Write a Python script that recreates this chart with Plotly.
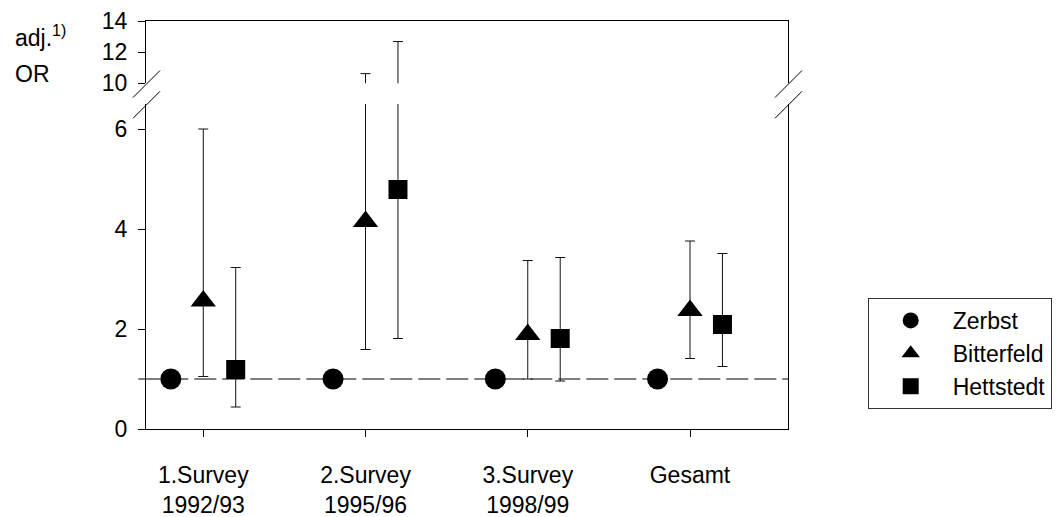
import plotly.graph_objects as go

# ---------------- data ----------------
groups = ["1.Survey<br>1992/93", "2.Survey<br>1995/96", "3.Survey<br>1998/99", "Gesamt"]
series_names = ["Zerbst", "Bitterfeld", "Hettstedt"]

zerbst_or = [1.0, 1.0, 1.0, 1.0]

bitterfeld_or = [2.56, 4.15, 1.89, 2.37]
bitterfeld_lo = [1.05, 1.59, 1.00, 1.41]
bitterfeld_hi = [6.00, 10.62, 3.37, 3.76]

hettstedt_or = [1.19, 4.79, 1.81, 2.09]
hettstedt_lo = [0.44, 1.81, 0.96, 1.25]
hettstedt_hi = [3.23, 12.68, 3.43, 3.51]

reference_or = 1.0
low_ticks = [0, 2, 4, 6]
high_ticks = [10, 12, 14]
low_range = [0, 6.5]
high_range = [10, 14]

# ---------------- layout helpers ----------------
W, H = 1057, 517
ML, MR, MT, MB = 146, 269, 21, 88
PW = W - ML - MR
PH = H - MT - MB


def px_x(px):
    return (px - ML) / PW


def px_y(py):
    return (H - MB - py) / PH


FONT = "Liberation Sans, Arial, sans-serif"
FS = 23

styles = {
    "Zerbst": dict(symbol="circle", size=21, offset=-0.2),
    "Bitterfeld": dict(symbol="triangle-up", size=22, offset=0.0),
    "Hettstedt": dict(symbol="square", size=19, offset=0.2),
}

data = {
    "Zerbst": (zerbst_or, None, None),
    "Bitterfeld": (bitterfeld_or, bitterfeld_lo, bitterfeld_hi),
    "Hettstedt": (hettstedt_or, hettstedt_lo, hettstedt_hi),
}

fig = go.Figure()

for name in series_names:
    vals, lo, hi = data[name]
    st = styles[name]
    xs = [i + st["offset"] for i in range(len(groups))]
    err = None
    if lo is not None:
        err = dict(
            type="data",
            symmetric=False,
            array=[h - v for h, v in zip(hi, vals)],
            arrayminus=[v - l for v, l in zip(vals, lo)],
            color="#111111",
            thickness=1,
            width=5,
        )
    for k, (xa, ya) in enumerate([("x", "y"), ("x2", "y2")]):
        fig.add_trace(
            go.Scatter(
                x=xs,
                y=vals,
                mode="markers",
                name=name,
                legendgroup=name,
                showlegend=(k == 0),
                marker=dict(symbol=st["symbol"], size=st["size"], color="black",
                            line=dict(width=0)),
                error_y=err,
                xaxis=xa,
                yaxis=ya,
                hoverinfo="skip",
            )
        )

low_top = px_y(104)
high_bottom = px_y(83.3)

axis_common = dict(
    showline=True,
    linecolor="black",
    linewidth=1,
    showgrid=False,
    zeroline=False,
    ticks="outside",
    ticklen=7,
    tickcolor="black",
    tickwidth=1,
    tickfont=dict(family=FONT, size=FS, color="black"),
)

fig.update_layout(
    width=W,
    height=H,
    margin=dict(l=ML, r=MR, t=MT, b=MB, autoexpand=False),
    paper_bgcolor="white",
    plot_bgcolor="white",
    font=dict(family=FONT, size=FS, color="black"),
    xaxis=dict(
        **axis_common,
        domain=[0, 1],
        range=[-0.353, 3.604],
        tickmode="array",
        tickvals=list(range(len(groups))),
        ticktext=groups,
        anchor="y",
        ticklabelstandoff=18,
    ),
    xaxis2=dict(
        domain=[0, 1],
        matches="x",
        anchor="y2",
        side="top",
        showline=True,
        linecolor="black",
        linewidth=1,
        showgrid=False,
        zeroline=False,
        showticklabels=False,
        ticks="",
    ),
    yaxis=dict(
        **axis_common,
        domain=[0, low_top],
        range=low_range,
        tickmode="array",
        tickvals=low_ticks,
        mirror=True,
        anchor="x",
        ticklabelstandoff=6,
    ),
    yaxis2=dict(
        **axis_common,
        domain=[high_bottom, 1],
        range=high_range,
        tickmode="array",
        tickvals=high_ticks,
        mirror=True,
        anchor="x2",
        ticklabelstandoff=6,
    ),
    legend=dict(
        x=px_x(867.7),
        y=px_y(298),
        xanchor="left",
        yanchor="top",
        bordercolor="#333333",
        borderwidth=1,
        bgcolor="white",
        font=dict(family=FONT, size=FS, color="black"),
        itemwidth=74,
        tracegroupgap=0,
    ),
    showlegend=True,
)

# reference line at OR = 1
fig.add_shape(
    type="line",
    xref="x domain",
    yref="y",
    x0=px_x(138.3),
    x1=1,
    y0=reference_or,
    y1=reference_or,
    line=dict(color="#555555", width=1.3, dash="22px,6px"),
    layer="below",
)

# axis break marks
for xc in (146, 788):
    for (x0, y0, x1, y1) in [(xc - 13, 97.5, xc + 14, 70.5), (xc - 13, 118.3, xc + 14, 91.3)]:
        fig.add_shape(
            type="line", xref="paper", yref="paper",
            x0=px_x(x0), y0=px_y(y0), x1=px_x(x1), y1=px_y(y1),
            line=dict(color="black", width=1),
        )

# y-axis title
fig.add_annotation(
    text="adj.<sup>1)</sup>", xref="paper", yref="paper",
    x=px_x(13), y=px_y(36), xanchor="left", yanchor="middle",
    showarrow=False, font=dict(family=FONT, size=FS, color="black"),
)
fig.add_annotation(
    text="OR", xref="paper", yref="paper",
    x=px_x(13), y=px_y(74), xanchor="left", yanchor="middle",
    showarrow=False, font=dict(family=FONT, size=FS, color="black"),
)

fig.write_html(
    "out.html",
    config={"displayModeBar": False},
    post_script="document.body.style.margin='0';",
)
